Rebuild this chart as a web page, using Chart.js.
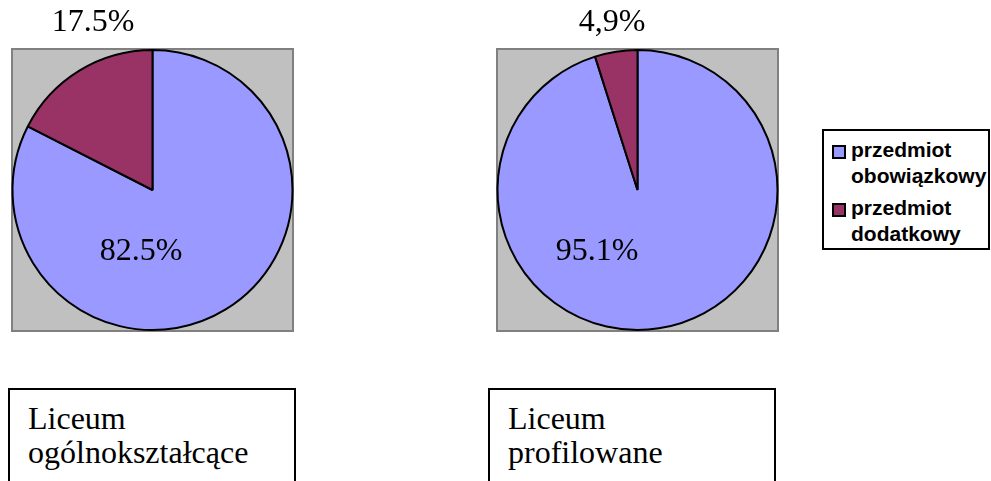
<!DOCTYPE html>
<html lang="pl">
<head>
<meta charset="utf-8">
<title>Przedmiot obowiązkowy i dodatkowy</title>
<script src="https://cdn.jsdelivr.net/npm/chart.js@4.4.1/dist/chart.umd.min.js"></script>
<style>
  html, body { margin: 0; padding: 0; background: #fff; }
  #stage { position: relative; width: 991px; height: 481px; overflow: hidden; }
  .pie { position: absolute; top: 0; width: 300px; height: 340px; }
  .school {
    position: absolute; top: 388px; width: 288px; height: 120px;
    box-sizing: border-box; border: 2px solid #000; background: #fff;
    font-family: "Liberation Serif", "Times New Roman", serif;
    font-size: 32px; line-height: 34px; color: #000;
    padding: 11px 0 0 18px;
  }
  #legend {
    position: absolute; left: 822px; top: 129px; width: 168px; height: 121px;
    box-sizing: border-box; border: 2px solid #000; background: #fff;
    font-family: "Liberation Sans", Arial, sans-serif; font-weight: bold;
    font-size: 21px; line-height: 26px; color: #000;
  }
  .entry { position: absolute; left: 27px; width: 140px; }
  .swatch {
    position: absolute; left: -19px; top: 8px; width: 14px; height: 14px;
    box-sizing: border-box; border: 2px solid #000;
  }
</style>
</head>
<body>
<div id="stage">
  <div class="pie" style="left:0"><canvas id="pieLO"></canvas></div>
  <div class="pie" style="left:485px"><canvas id="pieLP"></canvas></div>
  <div id="legend"></div>
  <div class="school" id="boxLO" style="left:8px"></div>
  <div class="school" id="boxLP" style="left:488px"></div>
</div>
<script>
// Categories (shared legend)
const categories = ['przedmiot obowiązkowy', 'przedmiot dodatkowy'];
const sliceColors = ['#9999FF', '#993366'];

// Liceum ogólnokształcące
const schoolLO = ['Liceum', 'ogólnokształcące'];
const valuesLO = [82.5, 17.5];
const labelsLO = ['82.5%', '17.5%'];

// Liceum profilowane
const schoolLP = ['Liceum', 'profilowane'];
const valuesLP = [95.1, 4.9];
const labelsLP = ['95.1%', '4,9%'];

// Grey plot background with a dark grey frame, drawn behind the pie
const plotFrame = {
  id: 'plotFrame',
  beforeDraw(chart) {
    const { ctx, chartArea: a } = chart;
    ctx.save();
    ctx.fillStyle = '#C0C0C0';
    ctx.fillRect(a.left, a.top, a.right - a.left, a.bottom - a.top);
    ctx.strokeStyle = '#808080';
    ctx.lineWidth = 2;
    ctx.strokeRect(a.left + 1, a.top + 1, a.right - a.left - 2, a.bottom - a.top - 2);
    ctx.restore();
  }
};

// Percentage labels: [x, baseline] for the big slice and the small slice
const sliceLabels = {
  id: 'sliceLabels',
  afterDraw(chart, args, opts) {
    const { ctx } = chart;
    ctx.save();
    ctx.font = '32px "Liberation Serif", "Times New Roman", serif';
    ctx.fillStyle = '#000';
    ctx.textAlign = 'center';
    ctx.textBaseline = 'alphabetic';
    opts.texts.forEach((t, i) => ctx.fillText(t, opts.pos[i][0], opts.pos[i][1]));
    ctx.restore();
  }
};

function makePie(id, values, texts, pos) {
  return new Chart(document.getElementById(id), {
    type: 'pie',
    data: {
      labels: categories,
      datasets: [{
        data: values,
        backgroundColor: sliceColors,
        borderColor: '#000',
        borderWidth: 2,
        hoverOffset: 0
      }]
    },
    options: {
      responsive: true,
      maintainAspectRatio: false,
      animation: false,
      radius: 140,
      layout: { padding: { left: 11, top: 48, right: 6, bottom: 8 } },
      plugins: {
        legend: { display: false },
        tooltip: { enabled: false },
        sliceLabels: { texts, pos }
      }
    },
    plugins: [plotFrame, sliceLabels]
  });
}

makePie('pieLO', valuesLO, labelsLO, [[141, 260], [93, 31]]);
makePie('pieLP', valuesLP, labelsLP, [[112, 260], [127, 31]]);

// Legend built from the categories
const legend = document.getElementById('legend');
const tops = [6, 64];
categories.forEach((name, i) => {
  const e = document.createElement('div');
  e.className = 'entry';
  e.style.top = tops[i] + 'px';
  const sw = document.createElement('span');
  sw.className = 'swatch';
  sw.style.background = sliceColors[i];
  e.appendChild(sw);
  e.appendChild(document.createTextNode(name));
  legend.appendChild(e);
});

// School captions
function fillBox(id, lines) {
  document.getElementById(id).innerHTML = lines.join('<br>');
}
fillBox('boxLO', schoolLO);
fillBox('boxLP', schoolLP);
</script>
</body>
</html>
